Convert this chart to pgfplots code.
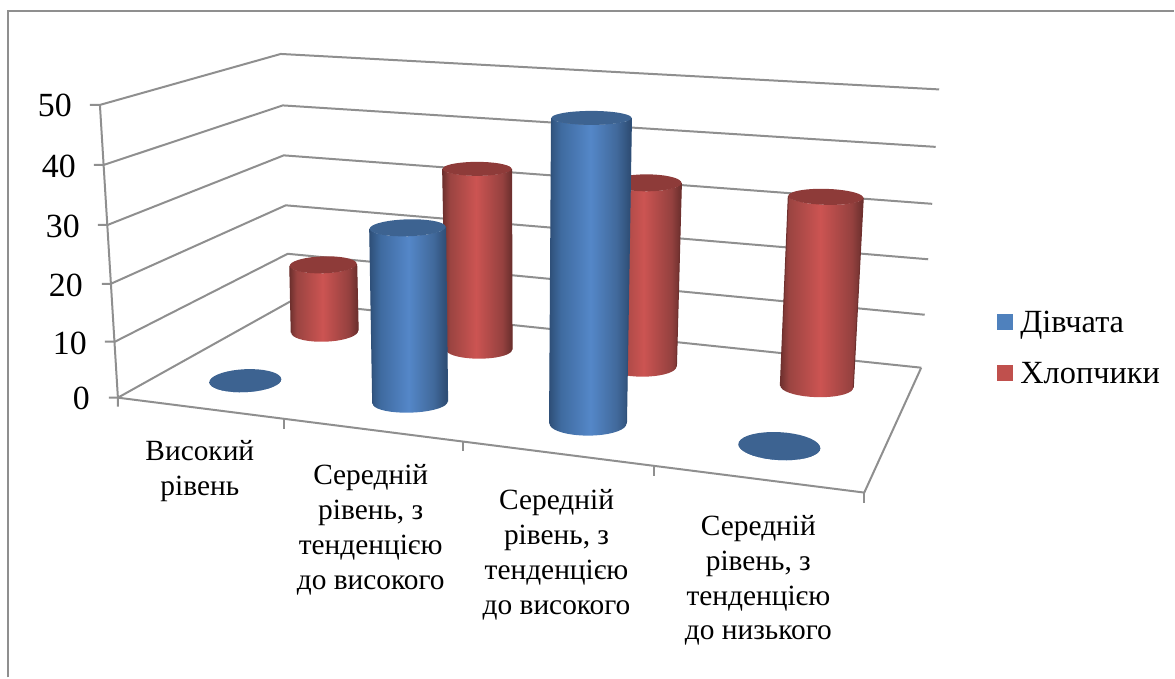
\documentclass[border=0pt]{standalone}
\usepackage{fontspec}
\setmainfont{Liberation Serif}
\usepackage{pgfplots}
\usepackage{pgfplotstable}
\pgfplotsset{compat=1.18}

\definecolor{gridgray}{HTML}{8F8F8F}
\definecolor{capblue}{HTML}{3D6391}
\definecolor{capred}{HTML}{8E3B39}
\definecolor{legblue}{HTML}{4F81BD}
\definecolor{legred}{HTML}{C0504D}
\definecolor{b0}{HTML}{2F5079}
\definecolor{b1}{HTML}{3F6BA0}
\definecolor{b2}{HTML}{5487C8}
\definecolor{b3}{HTML}{41699B}
\definecolor{b4}{HTML}{2C4A70}
\definecolor{r0}{HTML}{6E302E}
\definecolor{r1}{HTML}{9A4441}
\definecolor{r2}{HTML}{CC5452}
\definecolor{r3}{HTML}{95413F}
\definecolor{r4}{HTML}{682E2C}
\colorlet{edgeblue}{b0}
\colorlet{edgered}{r0}

% Side shading of the cylinders: the path's box spans 25bp to 75bp.
\pgfdeclarehorizontalshading{cylblue}{100bp}{color(0bp)=(b0); color(25bp)=(b0); color(32bp)=(b1); color(50bp)=(b2); color(66bp)=(b3); color(75bp)=(b4); color(100bp)=(b4)}
\pgfdeclarehorizontalshading{cylred}{100bp}{color(0bp)=(r0); color(25bp)=(r0); color(30bp)=(r1); color(49bp)=(r2); color(68bp)=(r3); color(75bp)=(r4); color(100bp)=(r4)}

% Unit outlines: u across, v down the picture, h = 0 at the base and 1 at the top.
\pgfplotstableread{
u v h
-1 0 0
-0.9848 0.1736 0
-0.9397 0.342 0
-0.866 0.5 0
-0.766 0.6428 0
-0.6428 0.766 0
-0.5 0.866 0
-0.342 0.9397 0
-0.1736 0.9848 0
0 1 0
0.1736 0.9848 0
0.342 0.9397 0
0.5 0.866 0
0.6428 0.766 0
0.766 0.6428 0
0.866 0.5 0
0.9397 0.342 0
0.9848 0.1736 0
1 0 0
1 0 1
0.866 0.5 1
0.5 0.866 1
0 1 1
-0.5 0.866 1
-0.866 0.5 1
-1 0 1
}\bodyoutline
\pgfplotstableread{
u v h
1 0 1
0.9848 0.1736 1
0.9397 0.342 1
0.866 0.5 1
0.766 0.6428 1
0.6428 0.766 1
0.5 0.866 1
0.342 0.9397 1
0.1736 0.9848 1
0 1 1
-0.1736 0.9848 1
-0.342 0.9397 1
-0.5 0.866 1
-0.6428 0.766 1
-0.766 0.6428 1
-0.866 0.5 1
-0.9397 0.342 1
-0.9848 0.1736 1
-1 0 1
-0.9848 -0.1736 1
-0.9397 -0.342 1
-0.866 -0.5 1
-0.766 -0.6428 1
-0.6428 -0.766 1
-0.5 -0.866 1
-0.342 -0.9397 1
-0.1736 -0.9848 1
0 -1 1
0.1736 -0.9848 1
0.342 -0.9397 1
0.5 -0.866 1
0.6428 -0.766 1
0.766 -0.6428 1
0.866 -0.5 1
0.9397 -0.342 1
0.9848 -0.1736 1
}\capoutline
% The two straight sides, as separate strokes that keep the edges clean.
\pgfplotstableread{
u v h
-1 0 0
-1 0 1
}\leftside
\pgfplotstableread{
u v h
1 0 0
1 0 1
}\rightside

% Placement of one cylinder on the floor: base x, y, radii, top x, radii, tilt.
\newcommand{\cylgeom}[8]{%
  \def\xb{#1}\def\yb{#2}\def\rb{#3}\def\qb{#4}%
  \def\xt{#5}\def\rt{#6}\def\qt{#7}\def\tilt{#8}}
% One cylinder: colour, value, height of one unit at that depth.
\newcommand{\cyl}[3]{%
  \addplot[forget plot, draw=none, shading=cyl#1] table[
    x expr={(1-\thisrow{h})*(\xb+\rb*\thisrow{u})+\thisrow{h}*(\xt+\rt*\thisrow{u})},
    y expr={\yb-\thisrow{h}*#2*#3+\thisrow{v}*((1-\thisrow{h})*\qb+\thisrow{h}*\qt)+\tilt*\thisrow{u}}
  ] {\bodyoutline};
  \addplot[forget plot, draw=edge#1, line width=1bp] table[
    x expr={(1-\thisrow{h})*(\xb+\rb*\thisrow{u})+\thisrow{h}*(\xt+\rt*\thisrow{u})},
    y expr={\yb-\thisrow{h}*#2*#3+\tilt*\thisrow{u}}
  ] {\leftside};
  \addplot[forget plot, draw=edge#1, line width=1bp] table[
    x expr={(1-\thisrow{h})*(\xb+\rb*\thisrow{u})+\thisrow{h}*(\xt+\rt*\thisrow{u})},
    y expr={\yb-\thisrow{h}*#2*#3+\tilt*\thisrow{u}}
  ] {\rightside};
  \addplot[forget plot, draw=none, fill=cap#1] table[
    x expr={\xt+\rt*\thisrow{u}},
    y expr={\yb-#2*#3+\qt*\thisrow{v}+\tilt*\thisrow{u}}
  ] {\capoutline};
}
\pgfplotsset{
  wire/.style={forget plot, draw=gridgray, line width=2bp},
  swatch/.style={legend image code/.code={\fill[draw=none,##1] (0bp,-8bp) rectangle (16bp,8bp);}},
}

\begin{document}
\begin{tikzpicture}
\begin{axis}[
  scale only axis, width=1175bp, height=678bp,
  xmin=0, xmax=1175, ymin=0, ymax=678, y dir=reverse,
  hide axis, clip=false,
  legend style={at={(998/1175,1-309/678)}, anchor=north west, draw=none, fill=none,
    font=\fontsize{32.5}{36}\selectfont, inner sep=0pt, row sep=24bp,
    nodes={inner sep=2bp}, /tikz/column 1/.style={column sep=5bp}},
  legend cell align=left,
]
% frame of the chart area
\addplot[forget plot, draw=gridgray, line width=2bp] coordinates {(8.5,678) (8.5,11.5) (1175,11.5)};

% walls: one bent line for each value on the scale
\addplot[wire] coordinates {(90,105) (100,105) (281,54) (940,89.5)};
\addplot[wire] coordinates {(94,165) (104,165) (283,105.5) (936.5,147)};
\addplot[wire] coordinates {(98,225) (108,225) (284,155.5) (933,204)};
\addplot[wire] coordinates {(102,284) (111,284) (286,205.5) (929,259.5)};
\addplot[wire] coordinates {(105,342) (115,342) (288,254) (925.5,315)};
\addplot[wire] coordinates {(109,398) (118,398) (290,302) (922,368)};
% vertical edge of the scale
\addplot[wire] coordinates {(100,105) (118,398) (118,407)};
% floor edges and category ticks
\addplot[wire] coordinates {(118,398) (865,493) (922,368)};
\addplot[wire] coordinates {(284,419.5) (284,429)};
\addplot[wire] coordinates {(463,442.5) (463,451.5)};
\addplot[wire] coordinates {(655,466.5) (655,476)};
\addplot[wire] coordinates {(865,493) (865,503)};

% Хлопчики and Дівчата, back to front
\cylgeom{325}{332}{33.5}{10}{323.5}{33.5}{8.5}{-1}
\cyl{red}{13}{5.15}
\cylgeom{245.5}{381}{36}{11.5}{245.5}{36}{11.5}{-1.5}
\cyl{blue}{0}{6.25}
\cylgeom{479.5}{350}{33}{9}{477.5}{34.5}{7}{0}
\cyl{red}{33}{5.485}
\cylgeom{410.5}{403}{37.5}{10}{408}{38}{8.5}{-1}
\cyl{blue}{28}{6.25}
\cylgeom{643}{367}{34}{10}{647}{35}{8.5}{0}
\cyl{red}{33}{5.576}
\cylgeom{588.5}{424}{38.5}{12}{592}{40}{7}{0}
\cyl{blue}{48}{6.375}
\cylgeom{817.5}{387}{36.5}{10.5}{826.5}{37.5}{8}{1}
\cyl{red}{34}{5.588}
\cylgeom{780}{446.5}{41}{14}{780}{41}{14}{2}
\cyl{blue}{0}{6.5}

% scale numbers
\begin{scope}[every node/.style={anchor=east, inner sep=0pt, font=\fontsize{34}{34}\selectfont}]
\node at (72,106) {50};
\node at (76,167) {40};
\node at (80,227) {30};
\node at (83,286) {20};
\node at (87,344) {10};
\node at (90,399) {0};
\end{scope}

% category names
\begin{scope}[every node/.style={anchor=center, align=center, inner sep=0pt, font=\fontsize{29.5}{35}\selectfont}]
\node at (200,471.5) {Високий\\рівень};
\node at (371,530) {Середній\\рівень, з\\тенденцією\\до високого};
\node at (557,555) {Середній\\рівень, з\\тенденцією\\до високого};
\node at (759,581) {Середній\\рівень, з\\тенденцією\\до низького};
\end{scope}

\addlegendimage{swatch, fill=legblue}
\addlegendentry{Дівчата}
\addlegendimage{swatch, fill=legred}
\addlegendentry{Хлопчики}
\end{axis}
\path (0,0) rectangle (1175bp,678bp);
\end{tikzpicture}
\end{document}
